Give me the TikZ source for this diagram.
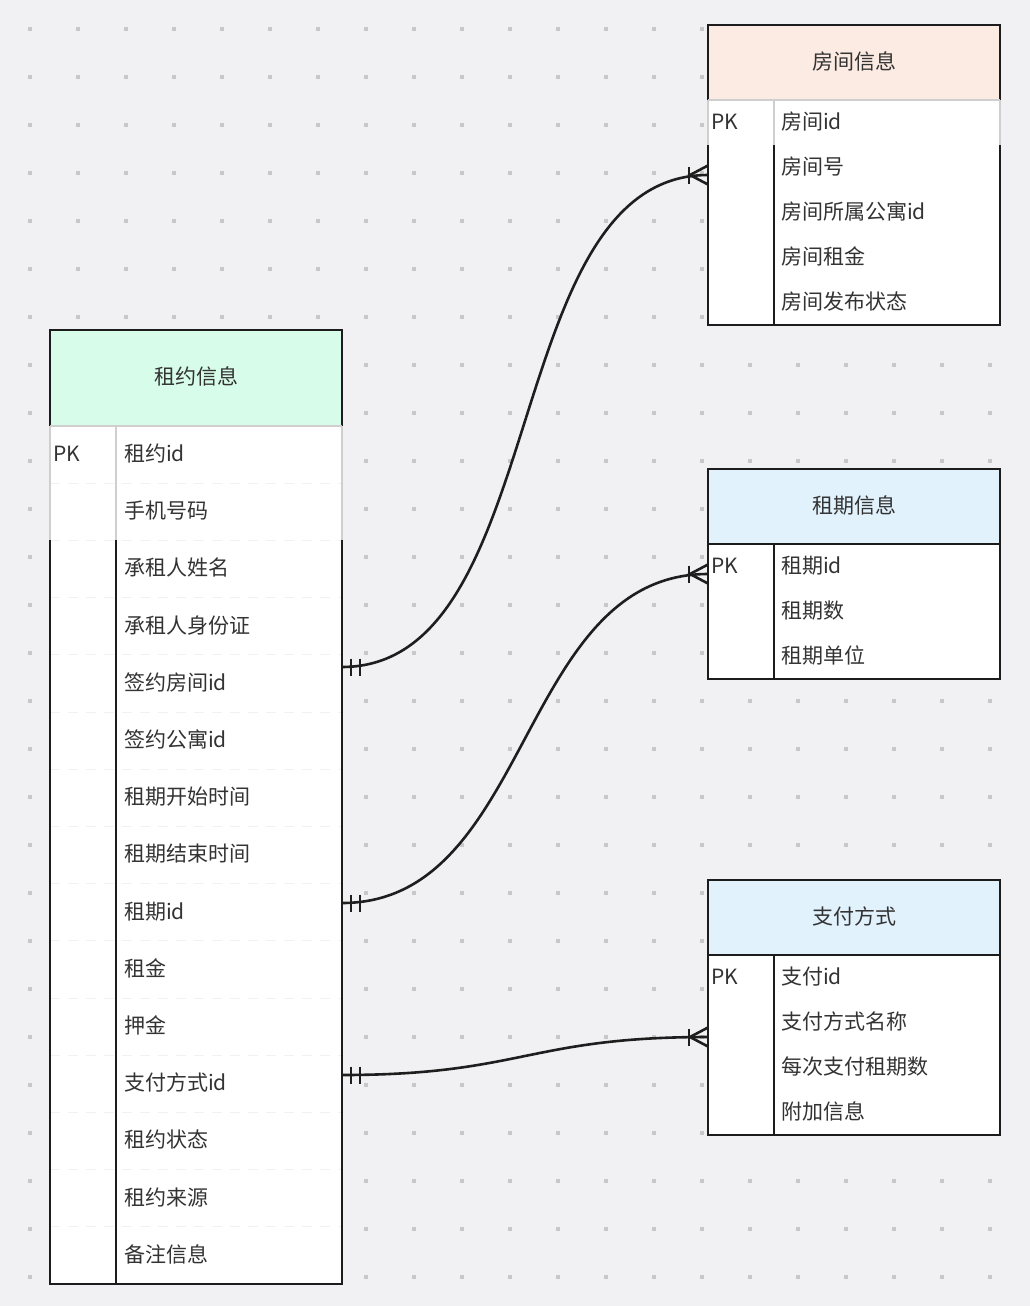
\documentclass[tikz,border=0pt]{standalone}
\usepackage{fontspec}
\setmainfont{Noto Sans CJK SC}
\definecolor{bg}{HTML}{F1F1F3}
\definecolor{dotc}{HTML}{C8C8C8}
\definecolor{txt}{HTML}{333333}
\definecolor{ln}{HTML}{1C1C1C}
\definecolor{cl}{HTML}{1E1E1E}
\definecolor{lgray}{HTML}{CFCFCF}
\definecolor{sepc}{HTML}{F1F1F1}
\definecolor{hpeach}{HTML}{FCEBE2}
\definecolor{hgreen}{HTML}{D7FCE9}
\definecolor{hblue}{HTML}{E1F2FD}
\begin{document}
\begin{tikzpicture}[x=1pt,y=-1pt,
  tb/.style={line width=1.4pt, draw=ln},
  gb/.style={line width=1.4pt, draw=lgray},
  sep/.style={line width=0.8pt, draw=sepc, dash pattern=on 10pt off 8pt},
  hdrbox/.style={draw=ln, line width=1.4pt, minimum width=292pt, inner sep=0pt,
    font=\fontsize{21}{21}\selectfont, text=txt, text height=1.36em, text depth=0em},
  fld/.style={font=\fontsize{21}{21}\selectfont, text=txt, anchor=west, inner sep=0pt,
    text height=1.36em, text depth=0em},
  conn/.style={line width=2.6pt, draw=cl},
  tick/.style={line width=2.6pt, draw=cl}]

% background and dot grid
\fill[bg] (0,0) rectangle (1030,1306);
\useasboundingbox (0,0) rectangle (1030,1306);
\foreach \i in {0,...,20}{\foreach \j in {0,...,26}{
  \fill[dotc] (28+48*\i,27+48*\j) rectangle ++(4,4);}}

% ===== 租约信息 (left table) =====
\fill[white] (50,426) rectangle (342,1284);
\node[hdrbox, fill=hgreen, minimum height=96pt] (zh) at (196,378) {租约信息};
\foreach \k in {1,...,14}{\draw[sep] (50,426+57.2*\k) -- (342,426+57.2*\k);}
\draw[gb] (50,426) -- (342,426);
\draw[gb] (50,426) -- (50,540);
\draw[gb] (116,426) -- (116,540);
\draw[gb] (342,426) -- (342,540);
\draw[tb] (50,540) -- (50,1284) -- (342,1284) -- (342,540);
\draw[tb] (116,540) -- (116,1284);
\node[fld] (zpk) at (53,454.6) {PK};
\foreach \t [count=\k from 0] in {租约id,手机号码,承租人姓名,承租人身份证,签约房间id,签约公寓id,租期开始时间,租期结束时间,租期id,租金,押金,支付方式id,租约状态,租约来源,备注信息}{
  \node[fld] (z\k) at (124,454.6+57.2*\k) {\t};}

% ===== 房间信息 =====
\fill[white] (708,100) rectangle (1000,325);
\node[hdrbox, fill=hpeach, minimum height=75pt] (rh) at (854,62.5) {房间信息};
\draw[gb] (708,100) -- (1000,100);
\draw[gb] (708,100) -- (708,145);
\draw[gb] (774,100) -- (774,145);
\draw[gb] (1000,100) -- (1000,145);
\draw[tb] (708,145) -- (708,325) -- (1000,325) -- (1000,145);
\draw[tb] (774,145) -- (774,325);
\node[fld] (rpk) at (711,122.5) {PK};
\foreach \t [count=\k from 0] in {房间id,房间号,房间所属公寓id,房间租金,房间发布状态}{
  \node[fld] (r\k) at (781,122.5+45*\k) {\t};}

% ===== 租期信息 =====
\fill[white] (708,544) rectangle (1000,679);
\node[hdrbox, fill=hblue, minimum height=75pt] (qh) at (854,506.5) {租期信息};
\draw[tb] (708,544) -- (708,679) -- (1000,679) -- (1000,544);
\draw[tb] (774,544) -- (774,679);
\node[fld] (qpk) at (711,566.5) {PK};
\foreach \t [count=\k from 0] in {租期id,租期数,租期单位}{
  \node[fld] (q\k) at (781,566.5+45*\k) {\t};}

% ===== 支付方式 =====
\fill[white] (708,955) rectangle (1000,1135);
\node[hdrbox, fill=hblue, minimum height=75pt] (ph) at (854,917.5) {支付方式};
\draw[tb] (708,955) -- (708,1135) -- (1000,1135) -- (1000,955);
\draw[tb] (774,955) -- (774,1135);
\node[fld] (ppk) at (711,977.5) {PK};
\foreach \t [count=\k from 0] in {支付id,支付方式名称,每次支付租期数,附加信息}{
  \node[fld] (p\k) at (781,977.5+45*\k) {\t};}

% ===== connectors =====
\coordinate (a1) at (342,667);  \coordinate (b1) at (708,175);
\coordinate (a2) at (342,903);  \coordinate (b2) at (708,574);
\coordinate (a3) at (342,1075); \coordinate (b3) at (708,1037);

\draw[conn] (a1) .. controls +(210,0) and +(-210,0) .. (b1);
\draw[conn] (a2) .. controls +(190,0) and +(-190,0) .. (b2);
\draw[conn] (a3) .. controls +(180,0) and +(-180,0) .. (b3);

\foreach \a in {a1,a2,a3}{
  \draw[tick] ([xshift=9pt]\a) ++(0,-8.5) -- ++(0,17);
  \draw[tick] ([xshift=18pt]\a) ++(0,-8.5) -- ++(0,17);}
\foreach \b in {b1,b2,b3}{
  \draw[tick] ([xshift=-19pt]\b) ++(0,-8.5) -- ++(0,17);
  \draw[tick] ([yshift=9.5pt]\b) -- ([xshift=-18pt]\b) -- ([yshift=-9.5pt]\b);}
\end{tikzpicture}
\end{document}
